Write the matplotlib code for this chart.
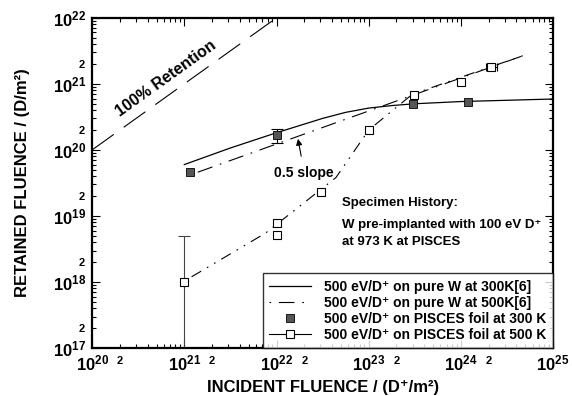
import numpy as np
import matplotlib
matplotlib.use("Agg")
import matplotlib.pyplot as plt
from matplotlib.ticker import FixedLocator, FuncFormatter
from matplotlib.lines import Line2D

plt.rcParams['font.family'] = ['Liberation Sans', 'DejaVu Sans']
plt.rcParams['font.weight'] = 'bold'
plt.rcParams['mathtext.fontset'] = 'custom'
plt.rcParams['mathtext.rm'] = 'Liberation Sans:bold'
plt.rcParams['mathtext.bf'] = 'Liberation Sans:bold'
plt.rcParams['mathtext.it'] = 'Liberation Sans:bold'

# 100% retention reference (retained = incident)
ret100_x = [1e20, 1e22]
ret100_y = [1e20, 1e22]

# 500 eV/D+ on pure W at 300K [6]
w300_x = [1e21, 3.16e21, 1e22, 3.16e22, 5.6e22, 1e23, 1.8e23, 3.16e23, 1e24, 1e25]
w300_y = [6.0e19, 1.07e20, 1.82e20, 3.0e20, 3.7e20, 4.3e20, 4.7e20, 5.0e20, 5.4e20, 5.9e20]

# 500 eV/D+ on pure W at 500K [6] (0.5 slope)
w500_x = [1.4e21, 5e24]
w500_y = [4.6e19, 2.75e21]

# PISCES foil at 300 K
p300_x = [1.16e21, 1e22, 3e23, 1.2e24]
p300_y = [4.6e19, 1.69e20, 4.9e20, 5.4e20]

# PISCES foil at 500 K
p500_x = [1e21, 1e22, 1e22, 3.07e22, 1e23, 3.1e23, 1e24, 2.1e24]
p500_y = [1e18, 7.9e18, 5.2e18, 2.3e19, 2e20, 6.9e20, 1.07e21, 1.78e21]

# fit through PISCES 500 K
p500fit_x = [1.2e21, 7.6e21, 4.4e22, 1e23, 2.95e23, 1e24, 5e24]
p500fit_y = [1.2e18, 5.5e18, 3.8e19, 2e20, 6.9e20, 1.26e21, 2.75e21]

fig = plt.figure(figsize=(5.72, 3.96), dpi=100)
ax = fig.add_axes([0.161, 0.121, 0.806, 0.834])
ax.set_xscale('log')
ax.set_yscale('log')
ax.set_xlim(1e20, 1e25)
ax.set_ylim(1e17, 1e22)

ax.plot(ret100_x, ret100_y, color='black', lw=0.8, dashes=(24, 11))
ax.plot(w300_x, w300_y, color='black', lw=0.9)
ax.plot(w500_x, w500_y, color='black', lw=0.8, dashes=(14, 7, 1.5, 7))
ax.plot(p500fit_x, p500fit_y, color='black', lw=0.8, dashes=(10, 6, 1.5, 6, 1.5, 6))

# error bars
ax.errorbar([1e21], [1e18], yerr=[[1e18 - 1e15], [4e18]], fmt='none',
            ecolor='#444444', elinewidth=0.8, capsize=4, capthick=0.8)
ax.errorbar([1e22], [1.69e20], yerr=[[0.4e20], [0.4e20]], fmt='none',
            ecolor='black', elinewidth=0.8, capsize=4, capthick=0.8)
ax.errorbar([2.1e24], [1.78e21], xerr=[[0.25e24], [0.35e24]], fmt='none',
            ecolor='black', elinewidth=0.8, capsize=3, capthick=0.8)

ax.plot(p300_x, p300_y, 's', color='#555555', mec='black', mew=0.6, ms=6)
ax.plot(p500_x, p500_y, 's', mfc='white', mec='black', mew=0.8, ms=6)

# texts
ax.text(6.3e20, 1.2e21, '100% Retention', rotation=35.6, rotation_mode='anchor',
        ha='center', va='center', fontsize=11.5, fontweight='bold')
ax.annotate('0.5 slope', xy=(1.71e22, 1.47e20), xytext=(2.0e22, 4.5e19),
            ha='center', va='center', fontsize=10, fontweight='bold',
            arrowprops=dict(arrowstyle='-|>', color='black', lw=0.8,
                            mutation_scale=9, shrinkA=5, shrinkB=0))
ax.text(5.1e22, 1.55e19, 'Specimen History:', ha='left', va='center', fontsize=9.5, fontweight='bold')
ax.text(5.1e22, 7.2e18, 'W pre-implanted with 100 eV D⁺', ha='left', va='center',
        fontsize=9.5, fontweight='bold')
ax.text(5.1e22, 4.0e18, 'at 973 K at PISCES', ha='left', va='center', fontsize=9.5, fontweight='bold')

# ticks
ax.xaxis.set_major_locator(FixedLocator([1e20, 1e21, 1e22, 1e23, 1e24, 1e25]))
ax.yaxis.set_major_locator(FixedLocator([1e17, 1e18, 1e19, 1e20, 1e21, 1e22]))
xminor = [m * 10.0 ** e for e in range(20, 25) for m in range(2, 10)]
yminor = [m * 10.0 ** e for e in range(17, 22) for m in range(2, 10)]
ax.xaxis.set_minor_locator(FixedLocator(xminor))
ax.yaxis.set_minor_locator(FixedLocator(yminor))


def major_fmt(v, pos):
    return r'$\mathbf{10^{%d}}$' % int(round(np.log10(v)))


def minor_fmt(v, pos):
    e = np.floor(np.log10(v) + 1e-9)
    return '2' if abs(v / 10 ** e - 2) < 1e-6 else ''


ax.xaxis.set_major_formatter(FuncFormatter(major_fmt))
ax.yaxis.set_major_formatter(FuncFormatter(major_fmt))
ax.xaxis.set_minor_formatter(FuncFormatter(minor_fmt))
ax.yaxis.set_minor_formatter(FuncFormatter(minor_fmt))
ax.tick_params(which='both', direction='in', top=True, right=True, width=0.8)
ax.tick_params(which='major', length=6, labelsize=12, pad=4)
ax.tick_params(which='minor', length=3, labelsize=8)
ax.tick_params(axis='y', which='minor', pad=5)
ax.tick_params(axis='x', which='minor', pad=6)
for lab in ax.get_xticklabels(which='minor') + ax.get_yticklabels(which='minor'):
    lab.set_fontweight('bold')
for s in ax.spines.values():
    s.set_linewidth(1.6)

ax.set_xlabel('INCIDENT FLUENCE / (D⁺/m²)', fontsize=12, fontweight='bold', labelpad=5)
ax.set_ylabel('RETAINED FLUENCE / (D/m²)', fontsize=12, fontweight='bold', labelpad=17)

handles = [
    Line2D([], [], color='black', lw=0.9),
    Line2D([], [], color='black', lw=0.8, dashes=(1.5, 7, 14, 7)),
    Line2D([], [], ls='none', marker='s', color='#555555', mec='black', mew=0.6, ms=6),
    Line2D([], [], color='black', lw=0.8, marker='s', mfc='white', mec='black', mew=0.8, ms=6),
]
labels = [
    '500 eV/D⁺ on pure W at 300K[6]',
    '500 eV/D⁺ on pure W at 500K[6]',
    '500 eV/D⁺ on PISCES foil at 300 K',
    '500 eV/D⁺ on PISCES foil at 500 K',
]
leg = ax.legend(handles, labels, loc='lower right', bbox_to_anchor=(1.0, 0.0), borderaxespad=0,
                fontsize=10, frameon=True, fancybox=False, handlelength=3.0,
                labelspacing=0.15, borderpad=0.45, handletextpad=1.0)
leg.get_frame().set_edgecolor('black')
leg.get_frame().set_linewidth(1.0)
for t in leg.get_texts():
    t.set_fontweight('bold')

fig.savefig('out.png', dpi=100)
